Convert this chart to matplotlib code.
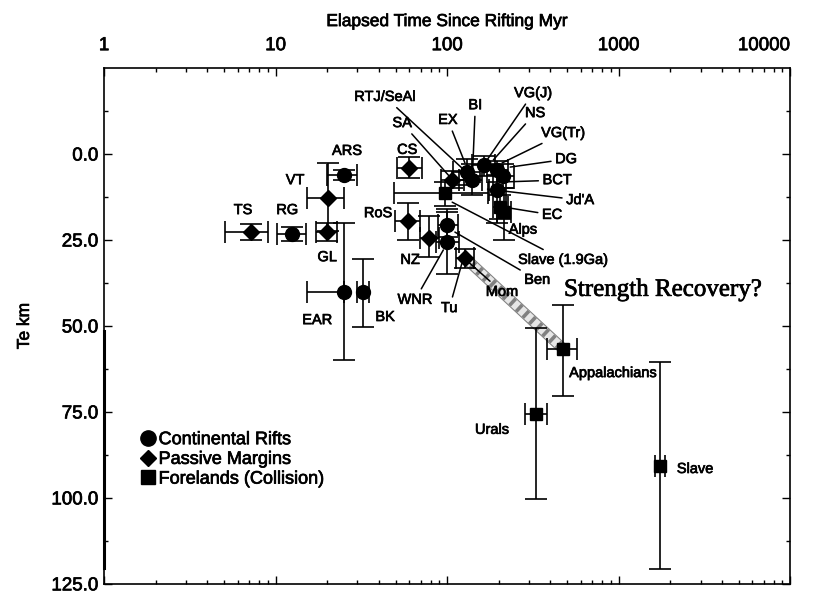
import numpy as np
import matplotlib
matplotlib.use("Agg")
import matplotlib.pyplot as plt
import matplotlib.patheffects as pe
from matplotlib.ticker import FixedLocator, NullFormatter, LogLocator

plt.rcParams['font.family'] = ['Liberation Sans', 'DejaVu Sans']

# ---------------- data ----------------
# Continental rifts (circles): age Myr, Te km, age range, Te range
rift_names = ["RG", "ARS", "EAR", "BK", "RTJ/SeAl", "BI", "VG(J)", "NS",
              "VG(Tr)", "BCT", "Ben", "WNR"]
rift_t = [12.5, 25, 25, 32.4, 131, 140, 165, 195, 212, 196, 100, 100]
rift_te = [23.3, 6, 40, 40.2, 5.2, 7.5, 3.3, 4.7, 6.5, 10.5, 20.6, 25.6]
rift_t_lo = [10.2, 20, 15.3, 30, 108, 118, 140, 170, 185, 175, 88, 86]
rift_t_hi = [15.0, 30, 25, 35, 155, 160, 190, 225, 245, 220, 115, 118]
rift_te_lo = [21.3, 4.5, 20, 30.5, 1.5, 3, 0.5, 2, 3, 6, 17, 16]
rift_te_hi = [25.3, 7.5, 60, 50.3, 9, 12, 6.5, 8, 10, 20, 24, 35]

# Passive margins (diamonds)
pm_names = ["TS", "VT", "GL", "CS", "RoS", "NZ", "SA", "Tu"]
pm_t = [7.2, 20.2, 20, 60, 59.5, 78.5, 107, 127]
pm_te = [22.7, 12.8, 22.7, 4.1, 19.5, 24.4, 7.5, 30.2]
pm_t_lo = [5.1, 15.3, 17.2, 51, 49.5, 69, 92, 113]
pm_t_hi = [9.0, 25, 22.8, 71, 69.6, 90, 125, 143]
pm_te_lo = [20.3, 2.6, 20.2, 1, 14.3, 18, 5, 27.5]
pm_te_hi = [25, 22.5, 25.2, 7, 25, 30, 10, 33]

# Forelands / collision (squares)
fl_names = ["Slave (1.9Ga)", "EC", "Alps", "Appalachians", "Urals", "Slave"]
fl_t = [97, 203, 215, 475, 330, 1746]
fl_te = [11.4, 15.4, 17, 56.7, 75.6, 90.7]
fl_t_lo = [49, 185, 195, 383, 285, 1620]
fl_t_hi = [173, 225, 235, 573, 380, 1850]
fl_te_lo = [8, 12, 10, 44, 50.6, 60.5]
fl_te_hi = [15, 19, 25, 70.3, 100.3, 120.6]

# label text, label position (age, Te), leader target (age, Te) or None
labels = [
    ("TS", (6.46, 16.3), None),
    ("RG", (11.7, 16.3), None),
    ("VT", (13.0, 7.6), None),
    ("ARS", (26.1, -0.9), None),
    ("GL", (20.0, 30.0), None),
    ("CS", (58.5, -1.2), None),
    ("RoS", (39.6, 17.2), None),
    ("NZ", (60.9, 30.8), None),
    ("EAR", (17.5, 48.3), None),
    ("BK", (43.5, 47.4), None),
    ("WNR", (65, 42.4), (95, 27.9)),
    ("Tu", (103, 44.8), (122, 31.7)),
    ("Mom", (209, 40.1), (133, 31.4)),
    ("Ben", (335, 36.6), (111, 22.7)),
    ("Slave (1.9Ga)", (475, 30.8), (107, 14.0)),
    ("Alps", (277, 22.0), None),
    ("EC", (409, 17.7), (212, 15.4)),
    ("Jd'A", (597, 13.4), (172, 10.2)),
    ("BCT", (438, 7.6), (218, 8.1)),
    ("DG", (494, 1.5), (233, 3.8)),
    ("VG(Tr)", (475, -6.1), (209, 2.6)),
    ("NS", (326, -11.9), (186, 1.7)),
    ("VG(J)", (317, -17.7), (171, 1.7)),
    ("BI", (146, -14.2), (140, 7.6)),
    ("EX", (101, -9.9), (127, 2.6)),
    ("SA", (54.7, -9.0), (104, 6.7)),
    ("RTJ/SeAl", (43.5, -16.6), (131, 5.5)),
    ("Appalachians", (929, 63.7), None),
    ("Urals", (183, 80.2), None),
    ("Slave", (2793, 91.6), None),
]

xticks = [1, 10, 100, 1000, 10000]
yticks = [0, 25, 50, 75, 100, 125]

# slightly heavier text, like the scanned original
heavy = [pe.withStroke(linewidth=0.5, foreground='black')]

# ---------------- figure ----------------
fig = plt.figure(figsize=(8.13, 5.97), dpi=100)
ax = fig.add_axes([0.128, 0.022, 0.844, 0.864])


def draw_group(t, te, tlo, thi, telo, tehi, marker, ms):
    t = np.array(t, float)
    te = np.array(te, float)
    xerr = [t - np.array(tlo), np.array(thi) - t]
    yerr = [te - np.array(telo), np.array(tehi) - te]
    ax.errorbar(t, te, xerr=xerr, yerr=yerr, fmt=marker, ms=ms, color='black',
                ecolor='black', elinewidth=1.2, capsize=8, capthick=1.2, zorder=3)


# strength recovery band (Tu diamond -> Appalachians), light cross-hatched look
bx = [pm_t[-1], fl_t[3]]
by = [pm_te[-1], fl_te[3]]
ax.plot(bx, by, color='0.5', lw=8, solid_capstyle='butt', zorder=2)
ax.plot(bx, by, color='0.9', lw=6.5, solid_capstyle='butt', zorder=2)
ax.plot(bx, by, color='0.5', lw=6.5, dashes=(0.4, 0.6), zorder=2)

draw_group(rift_t, rift_te, rift_t_lo, rift_t_hi, rift_te_lo, rift_te_hi, 'o', 10)
draw_group(pm_t, pm_te, pm_t_lo, pm_t_hi, pm_te_lo, pm_te_hi, 'D', 8)
draw_group(fl_t, fl_te, fl_t_lo, fl_t_hi, fl_te_lo, fl_te_hi, 's', 9)

for txt, pos, target in labels:
    if target is None:
        ax.text(pos[0], pos[1], txt, ha='center', va='center', fontsize=10.5,
                path_effects=heavy, zorder=5)
    else:
        ax.annotate(txt, xy=target, xytext=pos, ha='center', va='center', fontsize=10.5,
                    path_effects=heavy,
                    arrowprops=dict(arrowstyle='-', color='black', lw=1.1,
                                    shrinkA=1, shrinkB=0), zorder=5)

ax.text(1817, 39.5, "Strength Recovery?", family='Liberation Serif', fontsize=18,
        ha='center', va='center', path_effects=heavy)

# legend
ax.plot([], [], 'o', color='black', ms=11, label='Continental Rifts')
ax.plot([], [], 'D', color='black', ms=8, label='Passive Margins')
ax.plot([], [], 's', color='black', ms=10, label='Forelands (Collision)')
handles, lbls = ax.get_legend_handles_labels()
leg = ax.legend(handles[-3:], lbls[-3:], loc='upper left', bbox_to_anchor=(0.04, 0.31),
                frameon=False, fontsize=13, handletextpad=0.1, handlelength=1.0,
                labelspacing=0.15, borderaxespad=0)
for t in leg.get_texts():
    t.set_path_effects(heavy)

# axes
ax.set_xscale('log')
ax.set_xlim(1, 10000)
ax.set_ylim(125, -25)
ax.xaxis.set_ticks_position('both')
ax.xaxis.set_label_position('top')
ax.tick_params(axis='x', which='both', labeltop=True, labelbottom=False, direction='in')
ax.set_xticks(xticks)
ax.set_xticklabels([str(v) for v in xticks])
ax.xaxis.set_minor_locator(LogLocator(base=10, subs=np.arange(2, 10)))
ax.xaxis.set_minor_formatter(NullFormatter())
ax.set_yticks(yticks)
ax.set_yticklabels([f"{v:.1f}" for v in yticks])
ax.yaxis.set_minor_locator(FixedLocator(np.arange(-12.5, 125, 25)))
ax.yaxis.set_ticks_position('both')
ax.tick_params(axis='both', which='major', direction='in', length=6, width=1,
               labelsize=13.5)
ax.tick_params(axis='both', which='minor', direction='in', length=3, width=1)
ax.tick_params(axis='x', which='major', pad=10)
ax.tick_params(axis='y', which='major', pad=4)
for lab in ax.get_xticklabels() + ax.get_yticklabels():
    lab.set_path_effects(heavy)
ax.get_xticklabels()[-1].set_horizontalalignment('right')
for s in ax.spines.values():
    s.set_linewidth(1.2)
# scan artefact: thicker left frame segment
ax.axvline(1, ymin=0.03, ymax=0.49, color='black', lw=2.2, clip_on=False)

ax.set_xlabel("Elapsed Time Since Rifting Myr", fontsize=12.5, labelpad=8,
              path_effects=heavy)
ax.set_ylabel("Te km", fontsize=12.5, labelpad=14, path_effects=heavy)

fig.savefig("out.png", dpi=100)
